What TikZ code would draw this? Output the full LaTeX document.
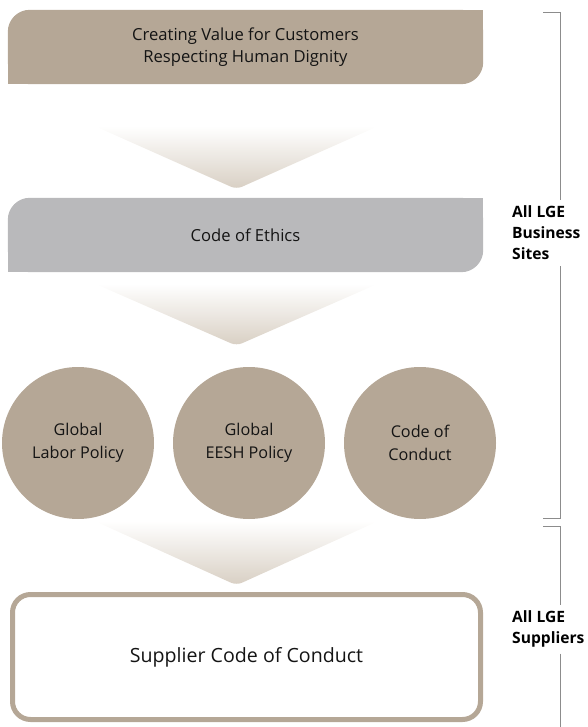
\documentclass[tikz,border=0pt]{standalone}
\usepackage{fontspec}
\setmainfont{Open Sans}
\usetikzlibrary{backgrounds,calc}
\definecolor{beige}{HTML}{B5A796}
\definecolor{greybox}{HTML}{B9B9BB}
\definecolor{chevbot}{HTML}{D8CFC3}
\definecolor{brk}{HTML}{8C8C8C}
\definecolor{txt}{HTML}{141414}
\begin{document}
\begin{tikzpicture}[x=1pt,y=-1pt,
  box/.style={minimum width=475pt,minimum height=76pt,inner sep=0pt,align=center,text=txt,font=\fontsize{16.6}{22}\selectfont},
  pol/.style={circle,fill=beige,minimum size=152pt,inner sep=0pt,align=center,text=txt,font=\fontsize{16.2}{23}\selectfont},
  chev/.style={top color=white,bottom color=chevbot,rounded corners=6pt},
  bracket/.style={draw=brk,line width=0.9pt},
  lab/.style={anchor=west,align=left,inner sep=0pt,inner ysep=6pt,font=\bfseries\fontsize{15.6}{21}\selectfont,text=black}]
\useasboundingbox (0,0) rectangle (588,727);

% boxes
\node[box] (vals) at (245.5,47) {Creating Value for Customers\\Respecting Human Dignity};
\node[box,minimum height=75pt] (ethics) at (245.5,235) {Code of Ethics};
\begin{scope}[on background layer]
  \fill[beige,rounded corners=22pt] ($(vals.south west)+(0,-1)$) rectangle ($(vals.north east)+(0,1)$);
  \fill[beige] (vals.center) rectangle ($(vals.north east)+(0,1)$);
  \fill[beige] ($(vals.south west)+(0,-1)$) rectangle (vals.center);
  \fill[greybox,rounded corners=22pt] ($(ethics.south west)+(0,-0.5)$) rectangle ($(ethics.north east)+(0,0.5)$);
  \fill[greybox] (ethics.center) rectangle ($(ethics.north east)+(0,0.5)$);
  \fill[greybox] ($(ethics.south west)+(0,-0.5)$) rectangle (ethics.center);
\end{scope}

% policies
\node[pol] (labor) at (78,443) {Global\\Labor Policy};
\node[pol] (eesh) at (249,443) {Global\\EESH Policy};
\node[pol] (conduct) at (420,443) {Code of\\Conduct};

% supplier
\node[draw=beige,line width=5pt,rounded corners=18pt,minimum width=468pt,minimum height=125pt,inner sep=0pt,text=txt,font=\fontsize{19.6}{23}\selectfont] (supplier) at (246.5,657) {Supplier Code of Conduct};

% chevrons
\shade[chev] ($(vals.south)+(-150.5,41)$) -- ($(vals.south)+(132.5,41)$) -- ($(vals.south)+(-9,104)$) -- cycle;
\shade[chev] ($(ethics.south)+(-150.5,11)$) -- ($(ethics.south)+(132.5,11)$) -- ($(ethics.south)+(-9,73)$) -- cycle;
\shade[chev] ($(eesh.south)+(-154,2)$) -- ($(eesh.south)+(129,2)$) -- ($(eesh.south)+(-12.5,66)$) -- cycle;

% labels
\node[lab] (sites) at (512,233) {All LGE\\Business\\Sites};
\node[lab] (supp) at (512,629) {All LGE\\Suppliers};

% brackets
\coordinate (b1t) at (560,12);
\coordinate (b1b) at (560,518);
\coordinate (b2t) at (560,526);
\coordinate (b2b) at (560,727);
\draw[bracket] ($(b1t)+(-17,0)$) -- (b1t) -- (b1t |- sites.north);
\draw[bracket] (b1b |- sites.south) -- (b1b) -- ($(b1b)+(-17,0)$);
\draw[bracket] ($(b2t)+(-17,0)$) -- (b2t) -- (b2t |- supp.north);
\draw[bracket] (b2b |- supp.south) -- (b2b);
\end{tikzpicture}
\end{document}
